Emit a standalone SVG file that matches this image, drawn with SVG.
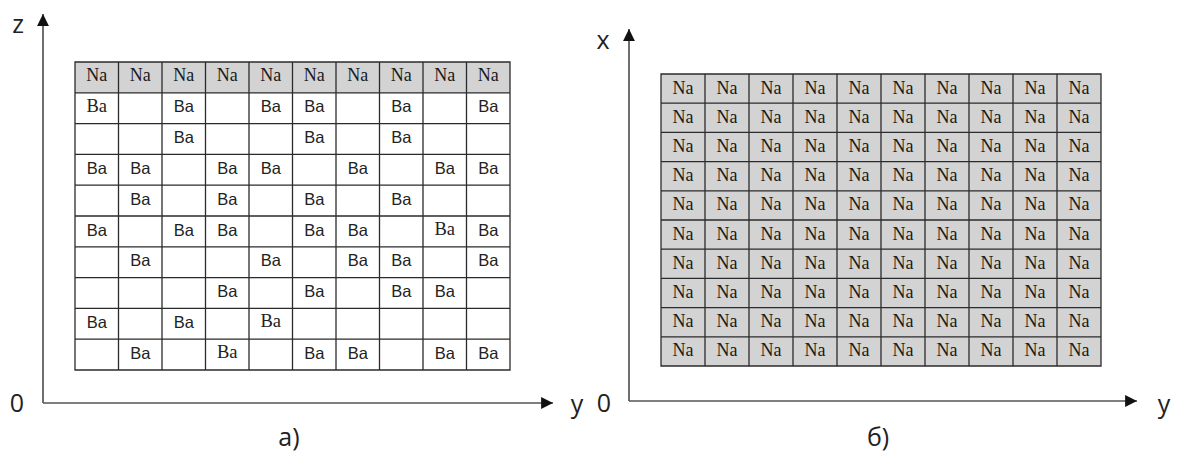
<svg xmlns="http://www.w3.org/2000/svg" width="1181" height="452" viewBox="0 0 1181 452">
  <style>
    .grid { fill: none; stroke: #2b2b2b; stroke-width: 1.3; }
    .head { fill: #d3d3d3; }
    .na { font-family: "Liberation Serif", serif; font-size: 18px; fill: #1a1a1a; text-anchor: middle; }
    .nb { font-family: "Liberation Serif", serif; font-size: 18px; fill: #1a1a1a; text-anchor: middle; }
    .ba { font-family: "Liberation Sans", Arial, sans-serif; font-size: 16.5px; fill: #222; text-anchor: middle; }
    .bs { font-family: "Liberation Serif", serif; font-size: 18.5px; fill: #222; text-anchor: middle; }
    .axis { stroke: #555; stroke-width: 1.7; fill: none; }
    .lbl { font-family: "Open Sans", "Noto Sans", sans-serif; font-size: 25px; fill: #222; text-anchor: middle; }
  </style>
  <defs>
    <marker id="arrow" viewBox="0 0 10 10" refX="10" refY="5" markerWidth="7" markerHeight="7" orient="auto" markerUnits="strokeWidth">
      <path d="M0,0 L10,5 L0,10 z" fill="#111"/>
    </marker>
  </defs>
  <rect width="1181" height="452" fill="#fff"/>

  <!-- axes -->
  <g id="connectors">
    <path class="axis" d="M43,403 V14" marker-end="url(#arrow)"/>
    <path class="axis" d="M43,403 H553" marker-end="url(#arrow)"/>
    <path class="axis" d="M629,401 V29" marker-end="url(#arrow)"/>
    <path class="axis" d="M629,401 H1137" marker-end="url(#arrow)"/>
  </g>

  <g id="labels">
    <text class="lbl" x="18" y="33">z</text>
    <text class="lbl" x="17" y="412">0</text>
    <text class="lbl" x="577" y="413">y</text>
    <text class="lbl" x="289" y="446">a)</text>
    <text class="lbl" x="603" y="49">x</text>
    <text class="lbl" x="604" y="412">0</text>
    <text class="lbl" x="1164" y="413">y</text>
    <text class="lbl" x="878" y="446">б)</text>
  </g>

  <!-- grid a: Na layer on top, Ba atoms below -->
  <g id="grid-a">
    <rect class="head" x="75" y="62" width="435" height="30.8"/>
    <path class="grid" d="M75,62 H510 V370 H75 Z
      M118.5,62 V370 M162,62 V370 M205.5,62 V370 M249,62 V370 M292.5,62 V370
      M336,62 V370 M379.5,62 V370 M423,62 V370 M466.5,62 V370
      M75,92.8 H510 M75,123.6 H510 M75,154.4 H510 M75,185.2 H510 M75,216 H510
      M75,246.8 H510 M75,277.6 H510 M75,308.4 H510 M75,339.2 H510"/>
    <g id="a-row0">
      <text class="na" x="96.75" y="81">Na</text>
      <text class="na" x="140.25" y="81">Na</text>
      <text class="na" x="183.75" y="81">Na</text>
      <text class="na" x="227.25" y="81">Na</text>
      <text class="na" x="270.75" y="81">Na</text>
      <text class="na" x="314.25" y="81">Na</text>
      <text class="na" x="357.75" y="81">Na</text>
      <text class="na" x="401.25" y="81">Na</text>
      <text class="na" x="444.75" y="81">Na</text>
      <text class="na" x="488.25" y="81">Na</text>
    </g>
    <g id="a-row1">
      <text class="bs" x="96.75" y="111.8">Ba</text>
      <text class="ba" x="183.75" y="112.3">Ba</text>
      <text class="ba" x="270.75" y="112.3">Ba</text>
      <text class="ba" x="314.25" y="112.3">Ba</text>
      <text class="ba" x="401.25" y="112.3">Ba</text>
      <text class="ba" x="488.25" y="112.3">Ba</text>
    </g>
    <g id="a-row2">
      <text class="ba" x="183.75" y="143.1">Ba</text>
      <text class="ba" x="314.25" y="143.1">Ba</text>
      <text class="ba" x="401.25" y="143.1">Ba</text>
    </g>
    <g id="a-row3">
      <text class="ba" x="96.75" y="173.9">Ba</text>
      <text class="ba" x="140.25" y="173.9">Ba</text>
      <text class="ba" x="227.25" y="173.9">Ba</text>
      <text class="ba" x="270.75" y="173.9">Ba</text>
      <text class="ba" x="357.75" y="173.9">Ba</text>
      <text class="ba" x="444.75" y="173.9">Ba</text>
      <text class="ba" x="488.25" y="173.9">Ba</text>
    </g>
    <g id="a-row4">
      <text class="ba" x="140.25" y="204.7">Ba</text>
      <text class="ba" x="227.25" y="204.7">Ba</text>
      <text class="ba" x="314.25" y="204.7">Ba</text>
      <text class="ba" x="401.25" y="204.7">Ba</text>
    </g>
    <g id="a-row5">
      <text class="ba" x="96.75" y="235.5">Ba</text>
      <text class="ba" x="183.75" y="235.5">Ba</text>
      <text class="ba" x="227.25" y="235.5">Ba</text>
      <text class="ba" x="314.25" y="235.5">Ba</text>
      <text class="ba" x="357.75" y="235.5">Ba</text>
      <text class="bs" x="444.75" y="235">Ba</text>
      <text class="ba" x="488.25" y="235.5">Ba</text>
    </g>
    <g id="a-row6">
      <text class="ba" x="140.25" y="266.3">Ba</text>
      <text class="ba" x="270.75" y="266.3">Ba</text>
      <text class="ba" x="357.75" y="266.3">Ba</text>
      <text class="ba" x="401.25" y="266.3">Ba</text>
      <text class="ba" x="488.25" y="266.3">Ba</text>
    </g>
    <g id="a-row7">
      <text class="ba" x="227.25" y="297.1">Ba</text>
      <text class="ba" x="314.25" y="297.1">Ba</text>
      <text class="ba" x="401.25" y="297.1">Ba</text>
      <text class="ba" x="444.75" y="297.1">Ba</text>
    </g>
    <g id="a-row8">
      <text class="ba" x="96.75" y="327.9">Ba</text>
      <text class="ba" x="183.75" y="327.9">Ba</text>
      <text class="bs" x="270.75" y="327.4">Ba</text>
    </g>
    <g id="a-row9">
      <text class="ba" x="140.25" y="358.7">Ba</text>
      <text class="bs" x="227.25" y="358.2">Ba</text>
      <text class="ba" x="314.25" y="358.7">Ba</text>
      <text class="ba" x="357.75" y="358.7">Ba</text>
      <text class="ba" x="444.75" y="358.7">Ba</text>
      <text class="ba" x="488.25" y="358.7">Ba</text>
    </g>
  </g>

  <!-- grid b: pure Na lattice -->
  <g id="grid-b">
    <rect class="head" x="661" y="74" width="440" height="292"/>
    <path class="grid" d="M661,74 H1101 V366 H661 Z
      M705,74 V366 M749,74 V366 M793,74 V366 M837,74 V366 M881,74 V366
      M925,74 V366 M969,74 V366 M1013,74 V366 M1057,74 V366
      M661,103.2 H1101 M661,132.4 H1101 M661,161.6 H1101 M661,190.8 H1101 M661,220 H1101
      M661,249.2 H1101 M661,278.4 H1101 M661,307.6 H1101 M661,336.8 H1101"/>
    <g id="b-row0"><text class="nb" x="683" y="93.5">Na</text><text class="nb" x="727" y="93.5">Na</text><text class="nb" x="771" y="93.5">Na</text><text class="nb" x="815" y="93.5">Na</text><text class="nb" x="859" y="93.5">Na</text><text class="nb" x="903" y="93.5">Na</text><text class="nb" x="947" y="93.5">Na</text><text class="nb" x="991" y="93.5">Na</text><text class="nb" x="1035" y="93.5">Na</text><text class="nb" x="1079" y="93.5">Na</text></g>
    <g id="b-row1"><text class="nb" x="683" y="122.7">Na</text><text class="nb" x="727" y="122.7">Na</text><text class="nb" x="771" y="122.7">Na</text><text class="nb" x="815" y="122.7">Na</text><text class="nb" x="859" y="122.7">Na</text><text class="nb" x="903" y="122.7">Na</text><text class="nb" x="947" y="122.7">Na</text><text class="nb" x="991" y="122.7">Na</text><text class="nb" x="1035" y="122.7">Na</text><text class="nb" x="1079" y="122.7">Na</text></g>
    <g id="b-row2"><text class="nb" x="683" y="151.9">Na</text><text class="nb" x="727" y="151.9">Na</text><text class="nb" x="771" y="151.9">Na</text><text class="nb" x="815" y="151.9">Na</text><text class="nb" x="859" y="151.9">Na</text><text class="nb" x="903" y="151.9">Na</text><text class="nb" x="947" y="151.9">Na</text><text class="nb" x="991" y="151.9">Na</text><text class="nb" x="1035" y="151.9">Na</text><text class="nb" x="1079" y="151.9">Na</text></g>
    <g id="b-row3"><text class="nb" x="683" y="181.1">Na</text><text class="nb" x="727" y="181.1">Na</text><text class="nb" x="771" y="181.1">Na</text><text class="nb" x="815" y="181.1">Na</text><text class="nb" x="859" y="181.1">Na</text><text class="nb" x="903" y="181.1">Na</text><text class="nb" x="947" y="181.1">Na</text><text class="nb" x="991" y="181.1">Na</text><text class="nb" x="1035" y="181.1">Na</text><text class="nb" x="1079" y="181.1">Na</text></g>
    <g id="b-row4"><text class="nb" x="683" y="210.3">Na</text><text class="nb" x="727" y="210.3">Na</text><text class="nb" x="771" y="210.3">Na</text><text class="nb" x="815" y="210.3">Na</text><text class="nb" x="859" y="210.3">Na</text><text class="nb" x="903" y="210.3">Na</text><text class="nb" x="947" y="210.3">Na</text><text class="nb" x="991" y="210.3">Na</text><text class="nb" x="1035" y="210.3">Na</text><text class="nb" x="1079" y="210.3">Na</text></g>
    <g id="b-row5"><text class="nb" x="683" y="239.5">Na</text><text class="nb" x="727" y="239.5">Na</text><text class="nb" x="771" y="239.5">Na</text><text class="nb" x="815" y="239.5">Na</text><text class="nb" x="859" y="239.5">Na</text><text class="nb" x="903" y="239.5">Na</text><text class="nb" x="947" y="239.5">Na</text><text class="nb" x="991" y="239.5">Na</text><text class="nb" x="1035" y="239.5">Na</text><text class="nb" x="1079" y="239.5">Na</text></g>
    <g id="b-row6"><text class="nb" x="683" y="268.7">Na</text><text class="nb" x="727" y="268.7">Na</text><text class="nb" x="771" y="268.7">Na</text><text class="nb" x="815" y="268.7">Na</text><text class="nb" x="859" y="268.7">Na</text><text class="nb" x="903" y="268.7">Na</text><text class="nb" x="947" y="268.7">Na</text><text class="nb" x="991" y="268.7">Na</text><text class="nb" x="1035" y="268.7">Na</text><text class="nb" x="1079" y="268.7">Na</text></g>
    <g id="b-row7"><text class="nb" x="683" y="297.9">Na</text><text class="nb" x="727" y="297.9">Na</text><text class="nb" x="771" y="297.9">Na</text><text class="nb" x="815" y="297.9">Na</text><text class="nb" x="859" y="297.9">Na</text><text class="nb" x="903" y="297.9">Na</text><text class="nb" x="947" y="297.9">Na</text><text class="nb" x="991" y="297.9">Na</text><text class="nb" x="1035" y="297.9">Na</text><text class="nb" x="1079" y="297.9">Na</text></g>
    <g id="b-row8"><text class="nb" x="683" y="327.1">Na</text><text class="nb" x="727" y="327.1">Na</text><text class="nb" x="771" y="327.1">Na</text><text class="nb" x="815" y="327.1">Na</text><text class="nb" x="859" y="327.1">Na</text><text class="nb" x="903" y="327.1">Na</text><text class="nb" x="947" y="327.1">Na</text><text class="nb" x="991" y="327.1">Na</text><text class="nb" x="1035" y="327.1">Na</text><text class="nb" x="1079" y="327.1">Na</text></g>
    <g id="b-row9"><text class="nb" x="683" y="356.3">Na</text><text class="nb" x="727" y="356.3">Na</text><text class="nb" x="771" y="356.3">Na</text><text class="nb" x="815" y="356.3">Na</text><text class="nb" x="859" y="356.3">Na</text><text class="nb" x="903" y="356.3">Na</text><text class="nb" x="947" y="356.3">Na</text><text class="nb" x="991" y="356.3">Na</text><text class="nb" x="1035" y="356.3">Na</text><text class="nb" x="1079" y="356.3">Na</text></g>
  </g>
</svg>
